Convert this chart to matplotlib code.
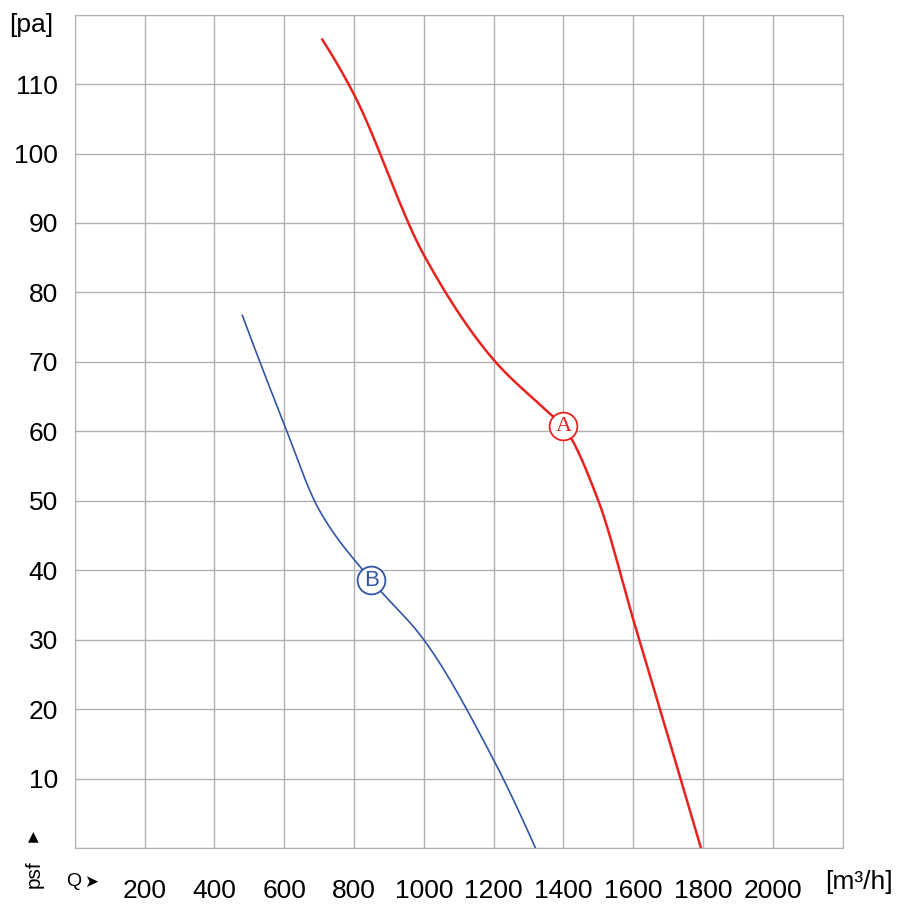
import numpy as np
import matplotlib.pyplot as plt
from scipy.interpolate import PchipInterpolator

plt.rcParams['font.family'] = ['Liberation Sans', 'DejaVu Sans']

# curve A (red)
a_q = [709, 800, 1000, 1200, 1351, 1400, 1500, 1600, 1686, 1794]
a_p = [116.4, 108.5, 85.4, 70.3, 63, 60.7, 50, 32.9, 18.4, 0]
# curve B (blue)
b_q = [480, 600, 700, 849, 1000, 1200, 1320]
b_p = [76.7, 61, 48.7, 38.6, 30, 12.7, 0]

xticks = [200, 400, 600, 800, 1000, 1200, 1400, 1600, 1800, 2000]
yticks = [10, 20, 30, 40, 50, 60, 70, 80, 90, 100, 110]

fig = plt.figure(figsize=(9.12, 9.11), dpi=100)
ax = fig.add_axes([0.082, 0.069, 0.842, 0.915])

def smooth(q, p):
    f = PchipInterpolator(q, p)
    xs = np.linspace(q[0], q[-1], 300)
    return xs, f(xs)

xa, ya = smooth(a_q, a_p)
xb, yb = smooth(b_q, b_p)
ax.plot(xa, ya, color="#e8231f", lw=1.8)
ax.plot(xb, yb, color="#3355a5", lw=1.2)

ax.plot(1400, 60.7, "o", ms=20, mfc="white", mec="#e8231f", mew=1.3)
ax.text(1400, 60.7, "A", color="#e8231f", ha="center", va="center", fontsize=16, family="Liberation Serif")
ax.plot(849, 38.6, "o", ms=20, mfc="white", mec="#3355a5", mew=1.3)
ax.text(849, 38.6, "B", color="#3355a5", ha="center", va="center", fontsize=16)

ax.set_xlim(0, 2200)
ax.set_ylim(0, 120)
ax.set_xticks(np.arange(0, 2201, 200))
ax.set_yticks(np.arange(0, 121, 10))
ax.set_xticklabels([""] + [str(v) for v in xticks] + [""])
ax.set_yticklabels([""] + [str(v) for v in yticks] + [""])
ax.grid(True, color="#b0b0b0", lw=1)
ax.tick_params(length=0, labelsize=19)
ax.tick_params(axis="x", pad=22)
ax.tick_params(axis="y", pad=12)
for s in ax.spines.values():
    s.set_color("#b0b0b0")

fig.text(0.01, 0.973, "[pa]", fontsize=19, va="center")
fig.text(0.037, 0.025, "psf", fontsize=15, rotation=90, va="bottom", ha="center")
fig.text(0.037, 0.082, "▲", fontsize=10, va="center", ha="center", family="DejaVu Sans")
fig.text(0.072, 0.032, "Q", fontsize=14, va="center")
fig.text(0.092, 0.032, "➤", fontsize=12, va="center", family="DejaVu Sans")
fig.text(0.905, 0.032, "[m³/h]", fontsize=19, va="center")

fig.savefig("out.png")
